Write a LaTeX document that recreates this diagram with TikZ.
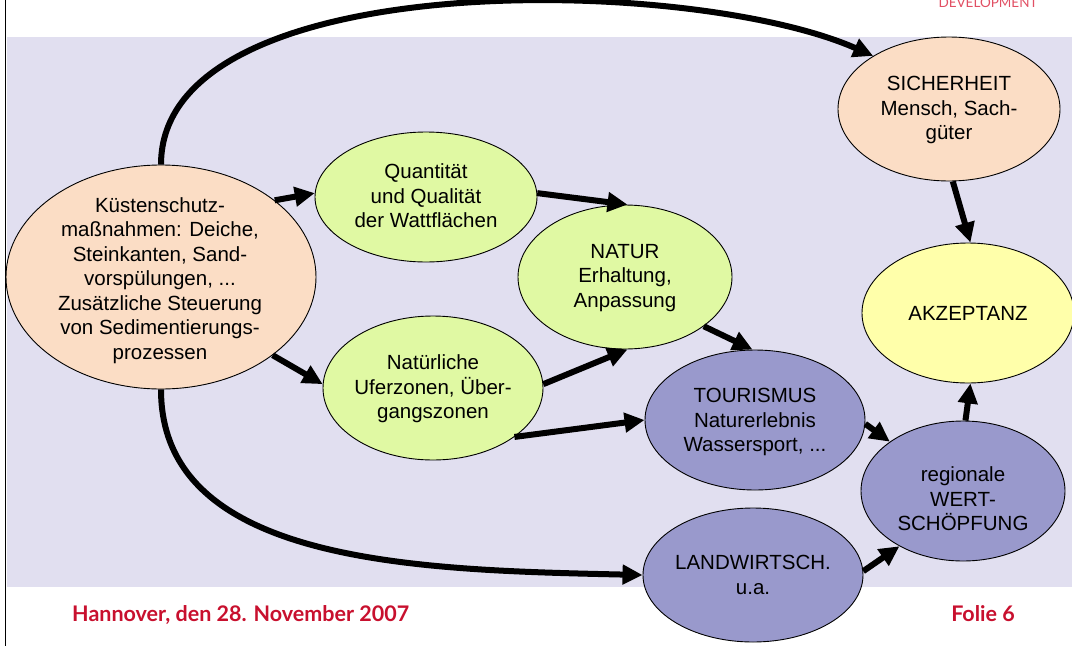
\documentclass[tikz,border=0pt]{standalone}
\usepackage{fontspec}
\setmainfont{Liberation Sans}
\newfontfamily\footfont{Lato}
\usetikzlibrary{arrows.meta,shapes.geometric}
\definecolor{lav}{HTML}{E1DFF0}
\definecolor{peach}{HTML}{FBDDC5}
\definecolor{lgreen}{HTML}{E0F9A3}
\definecolor{lblue}{HTML}{9999CC}
\definecolor{lyellow}{HTML}{FFFFAA}
\definecolor{footred}{HTML}{C8102E}
\definecolor{devred}{HTML}{E15064}
\begin{document}
\begin{tikzpicture}[x=1pt,y=-1pt,
  ell/.style={ellipse,draw=black,line width=0.9pt,inner sep=0pt},
  txt/.style={align=center,font=\fontsize{20.5}{24.5}\selectfont,inner sep=0pt},
  conn/.style={line width=6pt,-{Triangle[length=20pt,width=19pt]}},
  foot/.style={inner sep=0pt,text=footred,font=\footfont\bfseries\fontsize{21.5}{25}\selectfont}]
\useasboundingbox (0,0) rectangle (1072,646);
\fill[lav] (7,37) rectangle (1072,587);
\draw[line width=1.5pt] (5.5,0) -- (5.5,646);

\node[ell,fill=peach,minimum width=310pt,minimum height=224pt] (k) at (161,277) {};
\node[ell,fill=lgreen,minimum width=222pt,minimum height=130pt] (q) at (426,197) {};
\node[ell,fill=lgreen,minimum width=214pt,minimum height=144pt] (n) at (625,277) {};
\node[ell,fill=lgreen,minimum width=220pt,minimum height=144pt] (u) at (433,388) {};
\node[ell,fill=lblue,minimum width=220pt,minimum height=140pt] (t) at (755,420) {};
\node[ell,fill=lblue,minimum width=220pt,minimum height=134pt] (l) at (753,575) {};
\node[ell,fill=peach,minimum width=222pt,minimum height=144pt] (s) at (949,109) {};
\node[ell,fill=lyellow,minimum width=212pt,minimum height=140pt] (a) at (968,313) {};
\node[ell,fill=lblue,minimum width=204pt,minimum height=140pt] (w) at (963,491) {};

\node[txt] (kt) at (160,280.5) {Küstenschutz-\\maßnahmen: Deiche,\\Steinkanten, Sand-\\vorspülungen, ...\\Zusätzliche Steuerung\\von Sedimentierungs-\\prozessen};
\node[txt] (qt) at (426,196) {Quantität\\und Qualität\\der Wattflächen};
\node[txt] (nt) at (625,278) {NATUR\\Erhaltung,\\Anpassung};
\node[txt] (ut) at (433,389) {Natürliche\\Uferzonen, Über-\\gangszonen};
\node[txt] (tt) at (755,422) {TOURISMUS\\Naturerlebnis\\Wassersport, ...};
\node[txt] (lt) at (753,575) {LANDWIRTSCH.\\u.a.};
\node[txt] (st) at (949,110) {SICHERHEIT\\Mensch, Sach-\\güter};
\node[txt] (at) at (968,313) {AKZEPTANZ};
\node[txt] (wt) at (963,499) {regionale\\WERT-\\SCHÖPFUNG};

\draw[conn] (k.north) .. controls (161,-35) and (690,-25) .. (s.145);
\draw[conn] (k.south) .. controls (161,565) and (420,570) .. (l.west);
\draw[conn] (k.34) -- (q.178);
\draw[conn] (k.-35) -- (u.178);
\draw[conn] (q.2) -- (n.88);
\draw[conn] (u.2) -- (n.-88);
\draw[conn] (u.-31) -- (t.west);
\draw[conn] (n.-32) -- (t.92);
\draw[conn] (t.-2) -- (w.146);
\draw[conn] (l.2) -- (w.-139);
\draw[conn] (w.88) -- (a.-88);
\draw[conn] (s.-87) -- (a.88);

\node[foot,anchor=base west] (date) at (72,621) {Hannover, den 28. November 2007};
\node[foot,anchor=base east] (folie) at (1015,621) {Folie 6};
\node[anchor=base,inner sep=0pt,text=devred,font=\footfont\fontsize{13.5}{16}\selectfont] (dev) at (988,7) {DEVELOPMENT};
\end{tikzpicture}
\end{document}
